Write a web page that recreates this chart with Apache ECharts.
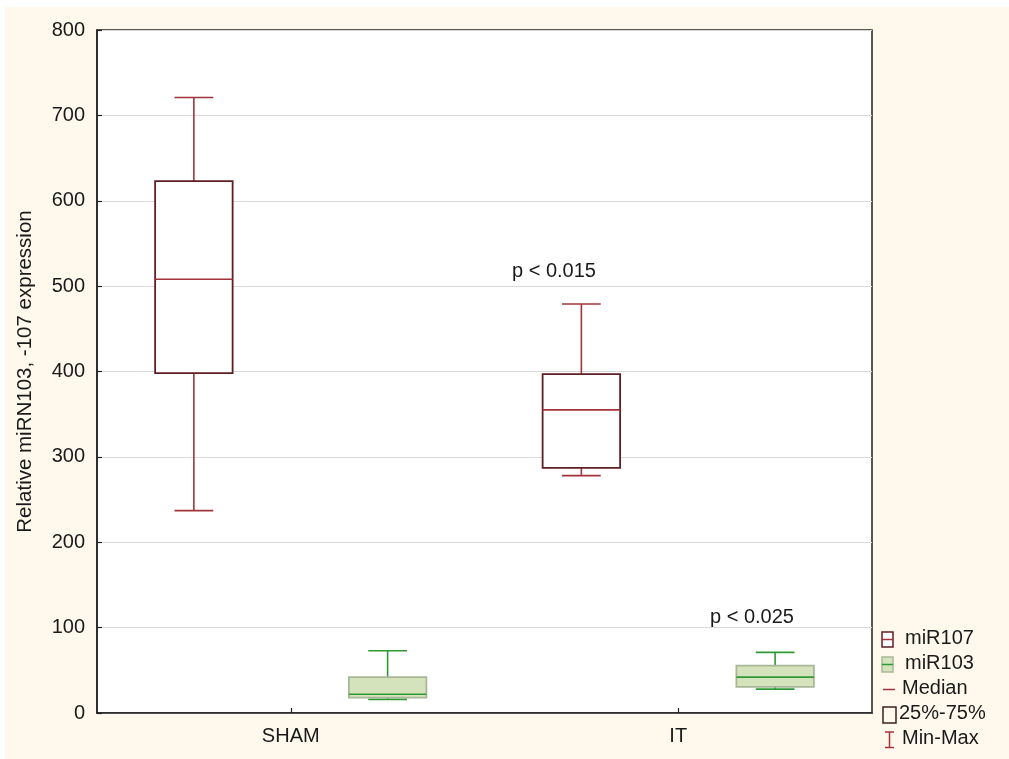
<!DOCTYPE html>
<html>
<head>
<meta charset="utf-8">
<script src="https://cdn.jsdelivr.net/npm/echarts@6/dist/echarts.min.js"></script>
<style>
html,body{margin:0;padding:0;background:#ffffff;}
#bg{position:absolute;left:5px;top:7px;width:1004px;height:752px;background:#fef9ec;}
#chart{position:absolute;left:0;top:0;width:1009px;height:759px;}
</style>
</head>
<body>
<div id="bg"></div>
<div id="chart"></div>
<script>
// ---- data ----
const categories = ['SHAM', 'IT'];
// [min, Q1, median, Q3, max]
const miR107 = [
  [237, 398, 508, 623, 721],
  [278, 287, 355, 397, 479]
];
const miR103 = [
  [16, 18, 22, 42, 73],
  [28, 30.5, 42, 55.5, 71]
];
const yTicks = [0, 100, 200, 300, 400, 500, 600, 700, 800];
const pLabels = ['p < 0.015', 'p < 0.025'];
const legendLabels = ['miR107', 'miR103', 'Median', '25%-75%', 'Min-Max'];

const FONT = "'Liberation Sans', Arial, sans-serif";
const C107 = {box: '#5e1f22', line: '#a3333a', fill: '#ffffff'};
const C103 = {box: '#a8b896', line: '#2f9a33', fill: '#d5e3bd'};

function makeRender(col, offsetFrac) {
  return function (params, api) {
    const xi = api.value(0);
    const band = api.size([1, 0])[0];
    const cx = api.coord([xi, 0])[0] + offsetFrac * band;
    const bw = band * 0.2;
    const cap = bw / 2;
    const y = [1, 2, 3, 4, 5].map(i => api.coord([xi, api.value(i)])[1]);
    const lw = {stroke: col.line, lineWidth: 1.6};
    return {
      type: 'group',
      children: [
        {type: 'line', shape: {x1: cx, y1: y[4], x2: cx, y2: y[3]}, style: lw},
        {type: 'line', shape: {x1: cx, y1: y[1], x2: cx, y2: y[0]}, style: lw},
        {type: 'line', shape: {x1: cx - cap / 2, y1: y[4], x2: cx + cap / 2, y2: y[4]}, style: lw},
        {type: 'line', shape: {x1: cx - cap / 2, y1: y[0], x2: cx + cap / 2, y2: y[0]}, style: lw},
        {type: 'rect', shape: {x: cx - bw / 2, y: y[3], width: bw, height: y[1] - y[3]},
          style: {fill: col.fill, stroke: col.box, lineWidth: 1.8}},
        {type: 'line', shape: {x1: cx - bw / 2, y1: y[2], x2: cx + bw / 2, y2: y[2]}, style: {stroke: col.line, lineWidth: 1.6}}
      ]
    };
  };
}

function toRows(arr) { return arr.map((v, i) => [i].concat(v)); }

// legend graphic
const lgX = 882, lgTop = 632, lgStep = 25;
const legendGraphic = [];
legendLabels.forEach((t, i) => {
  const cy = lgTop + 7.5 + i * lgStep;
  let icon;
  if (i === 0 || i === 1) {
    const c = i === 0 ? C107 : C103;
    icon = [
      {type: 'rect', shape: {x: lgX, y: cy - 7.5, width: 11, height: 15}, style: {fill: c.fill, stroke: c.box, lineWidth: 1.5}},
      {type: 'line', shape: {x1: lgX, y1: cy, x2: lgX + 11, y2: cy}, style: {stroke: c.line, lineWidth: 1.5}}
    ];
  } else if (i === 2) {
    icon = [{type: 'line', shape: {x1: lgX + 1, y1: cy, x2: lgX + 13, y2: cy}, style: {stroke: C107.line, lineWidth: 1.5}}];
  } else if (i === 3) {
    icon = [{type: 'rect', shape: {x: lgX + 1, y: cy - 7.5, width: 13, height: 16}, style: {fill: 'none', stroke: '#3a2020', lineWidth: 1.5}}];
  } else {
    icon = [
      {type: 'line', shape: {x1: lgX + 7.5, y1: cy - 7.5, x2: lgX + 7.5, y2: cy + 8}, style: {stroke: C107.line, lineWidth: 1.5}},
      {type: 'line', shape: {x1: lgX + 3, y1: cy - 7.5, x2: lgX + 12, y2: cy - 7.5}, style: {stroke: C107.line, lineWidth: 1.5}},
      {type: 'line', shape: {x1: lgX + 3, y1: cy + 8, x2: lgX + 12, y2: cy + 8}, style: {stroke: C107.line, lineWidth: 1.5}}
    ];
  }
  const tx = (i < 2) ? 905 : (i === 3 ? 899 : 902);
  legendGraphic.push(...icon);
  legendGraphic.push({type: 'text', left: tx, top: cy - 11,
    style: {text: t, font: '20px ' + FONT, fill: '#1a1a1a'}});
});

const chart = echarts.init(document.getElementById('chart'));
chart.setOption({
  backgroundColor: 'transparent',
  animation: false,
  grid: {left: 97, right: 137, top: 30, bottom: 46, show: true, backgroundColor: '#ffffff',
    borderColor: '#222222', borderWidth: 1.5, containLabel: false},
  xAxis: {
    type: 'category', data: categories, boundaryGap: true,
    axisLine: {show: true, lineStyle: {color: '#222222', width: 1.5}},
    axisTick: {show: true, inside: true, alignWithLabel: true, length: 5, lineStyle: {color: '#222222', width: 1.2}},
    axisLabel: {margin: 13, color: '#1a1a1a', fontSize: 20, fontFamily: FONT},
    splitLine: {show: false}
  },
  yAxis: {
    type: 'value', min: 0, max: 800, interval: 100,
    name: 'Relative miRN103, -107 expression', nameLocation: 'middle', nameGap: 61, nameRotate: 90,
    nameTextStyle: {color: '#1a1a1a', fontSize: 20.5, fontFamily: FONT},
    axisLine: {show: true, lineStyle: {color: '#222222', width: 1.5}},
    axisTick: {show: true, inside: true, length: 5, lineStyle: {color: '#222222', width: 1.2}},
    axisLabel: {margin: 12, color: '#1a1a1a', fontSize: 20, fontFamily: FONT,
      formatter: v => yTicks.includes(v) ? String(v) : ''},
    splitLine: {show: true, lineStyle: {color: '#d9d9d9', width: 1.2}}
  },
  series: [
    {name: 'miR107', type: 'custom', renderItem: makeRender(C107, -0.25), data: toRows(miR107),
      encode: {x: 0, y: [1, 2, 3, 4, 5]}, clip: false, z: 3},
    {name: 'miR103', type: 'custom', renderItem: makeRender(C103, 0.25), data: toRows(miR103),
      encode: {x: 0, y: [1, 2, 3, 4, 5]}, clip: false, z: 3}
  ],
  graphic: [
    {type: 'text', left: 512, top: 261, style: {text: pLabels[0], font: '20px ' + FONT, fill: '#1a1a1a'}},
    {type: 'text', left: 710, top: 607, style: {text: pLabels[1], font: '20px ' + FONT, fill: '#1a1a1a'}}
  ].concat(legendGraphic)
});
</script>
</body>
</html>
